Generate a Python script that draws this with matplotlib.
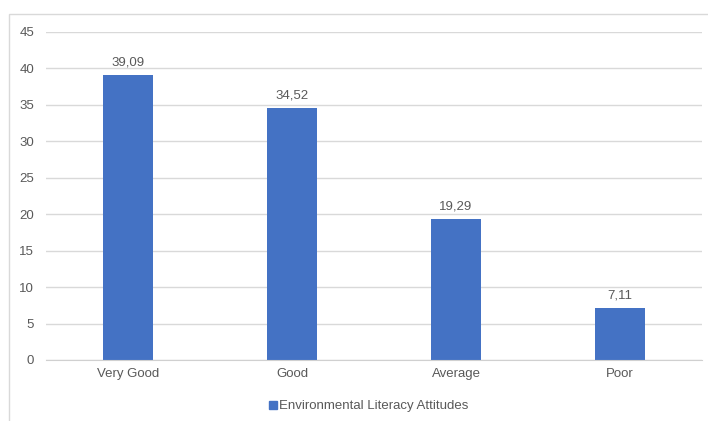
import matplotlib.pyplot as plt
from matplotlib.patches import Rectangle
from matplotlib.lines import Line2D

categories = ["Very Good", "Good", "Average", "Poor"]
values = [39.09, 34.52, 19.29, 7.11]
series_name = "Environmental Literacy Attitudes"

bar_color = "#4472C4"
text_color = "#595959"
grid_color = "#D9D9D9"

plt.rcParams['font.family'] = ['Liberation Sans', 'DejaVu Sans']

fig = plt.figure(figsize=(7.08, 4.21), dpi=100)
ax = fig.add_axes([46 / 708, 1 - 360 / 421, 656 / 708, 328 / 421])

x = range(len(categories))
bars = ax.bar(x, values, width=0.31, color=bar_color, zorder=3, label=series_name)

for rect, v in zip(bars, values):
    ax.annotate(f"{v:.2f}".replace(".", ","),
                (rect.get_x() + rect.get_width() / 2, v),
                xytext=(0, 5), textcoords="offset points",
                ha="center", va="bottom", fontsize=9.5, color=text_color)

ax.set_xlim(-0.5, len(categories) - 0.5)
ax.set_ylim(0, 45)
ax.set_yticks(range(0, 46, 5))
ax.set_xticks(list(x))
ax.set_xticklabels(categories)
ax.tick_params(axis="both", length=0, labelsize=9.5, labelcolor=text_color)
ax.tick_params(axis="y", pad=8.5)
ax.tick_params(axis="x", pad=6)
ax.grid(axis="y", color=grid_color, linewidth=1, zorder=0)
for side in ["top", "right", "left"]:
    ax.spines[side].set_visible(False)
ax.spines["bottom"].set_color("#D0D0D0")
ax.spines["bottom"].set_zorder(4)

# outer chart frame
frame = Rectangle((8.5 / 708, -0.1), 1.2, 1 - 14 / 421 + 0.1,
                  transform=fig.transFigure, fill=False,
                  edgecolor="#D9D9D9", linewidth=1)
fig.patches.append(frame)

handle = Line2D([], [], marker="s", linestyle="none", markersize=6,
                markerfacecolor=bar_color, markeredgecolor=bar_color)
fig.legend([handle], [series_name], loc="center", bbox_to_anchor=(368 / 708, 1 - 406 / 421),
           frameon=False, fontsize=9.5, labelcolor=text_color,
           handletextpad=0.1, handlelength=0.8)

fig.savefig("out.png", dpi=100)
